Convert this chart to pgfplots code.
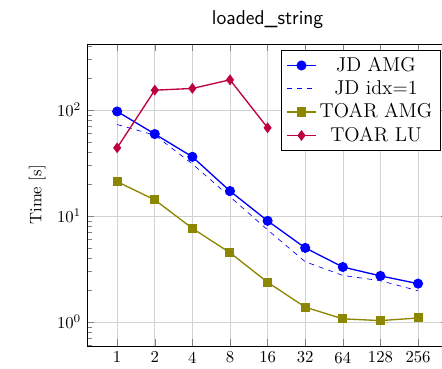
\documentclass[border=0pt]{standalone}
\usepackage{pgfplots}
\pgfplotsset{compat=1.18}
\begin{document}
\begin{tikzpicture}
\begin{axis}[
  scale only axis, width=216.5pt, height=181pt,
  ymode=log, xmin=-0.8, xmax=8.8, ymin=0.594, ymax=420,
  xtick={0,...,8}, xticklabels={1,2,4,8,16,32,64,128,256},
  grid=major, major grid style={gray!35},
  title={\sffamily\large loaded\_string},
  ylabel={Time [s]},
  legend style={font=\large, at={(0.98,0.98)}, anchor=north east},
  legend cell align=center,
]
\addplot[blue, thick, mark=*, mark size=2.6pt] coordinates {
 (0,97) (1,59.4) (2,36.2) (3,17.2) (4,9.0) (5,5.0) (6,3.3) (7,2.72) (8,2.30)};
\addlegendentry{JD AMG}
\addplot[blue, dashed] coordinates {
 (0,73) (1,58) (2,31) (3,15.2) (4,7.4) (5,3.7) (6,2.75) (7,2.45) (8,1.97)};
\addlegendentry{JD idx=1}
\addplot[olive, thick, mark=square*, mark size=2.3pt] coordinates {
 (0,21.1) (1,14.2) (2,7.65) (3,4.5) (4,2.37) (5,1.38) (6,1.07) (7,1.03) (8,1.09)};
\addlegendentry{TOAR AMG}
\addplot[purple, thick, mark=diamond*, mark size=2.6pt] coordinates {
 (0,44) (1,154) (2,160) (3,193) (4,68)};
\addlegendentry{TOAR LU}
\end{axis}
\pgfresetboundingbox
\path (-52.2pt,-13.8pt) rectangle (212.8pt,207.4pt);
\end{tikzpicture}
\end{document}
